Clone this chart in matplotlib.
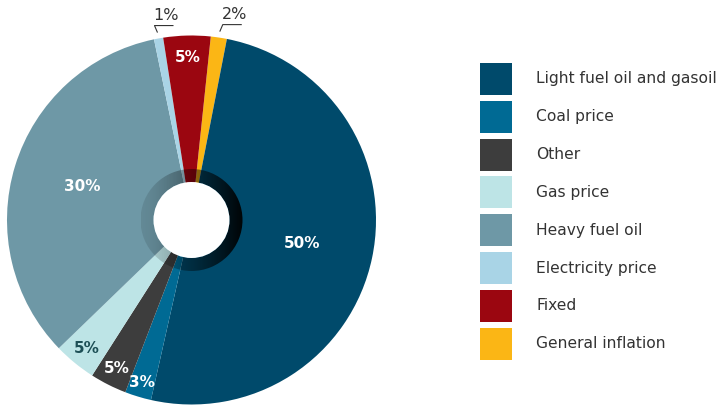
import numpy as np
import matplotlib.pyplot as plt
from matplotlib.patches import Wedge, Circle, Rectangle

# slices in drawing order (clockwise, starting just right of the top)
categories = ['General inflation', 'Light fuel oil and gasoil', 'Coal price', 'Other',
              'Gas price', 'Heavy fuel oil', 'Electricity price', 'Fixed']
shares = [1.4, 50.2, 2.3, 3.2, 3.7, 33.8, 0.8, 4.1]
pct_labels = ['2%', '50%', '3%', '5%', '5%', '30%', '1%', '5%']
colors = ['#fbb615', '#004a6b', '#006a94', '#3d3d3d', '#bde4e6', '#6e98a6', '#a9d4e6', '#9b0610']
legend_order = ['Light fuel oil and gasoil', 'Coal price', 'Other', 'Gas price',
                'Heavy fuel oil', 'Electricity price', 'Fixed', 'General inflation']

# label style per slice
label_dist = [0, 0.61, 0.92, 0.90, 0.90, 0.62, 0, 0.88]
label_col = ['w', 'w', 'w', 'w', '#1d4f56', 'w', 'w', 'w']

W, H = 720, 405
fig = plt.figure(figsize=(7.2, 4.05), dpi=100)
ax = fig.add_axes([0, 0, 1, 1])

cx, cy, R = 191.5, H - 220, 184.5
wedges, _ = ax.pie(shares, colors=colors, startangle=84, counterclock=False,
                   center=(cx, cy), radius=R, frame=True,
                   wedgeprops=dict(linewidth=0))

# labels
for w, lab, d, c in zip(wedges, pct_labels, label_dist, label_col):
    th = np.deg2rad((w.theta1 + w.theta2) / 2)
    if d > 0:
        ax.text(cx + d * R * np.cos(th), cy + d * R * np.sin(th), lab,
                ha='center', va='center', fontsize=11, fontweight='bold', color=c)
    else:
        # small slice: label outside with leader
        ax_ = cx + (R + 6) * np.cos(th)
        ay_ = cy + (R + 6) * np.sin(th)
        ex = ax_ + 3 * np.sign(np.cos(th))
        ey = ay_ + 7
        ax.plot([ax_, ex, ex + 19], [ay_, ey, ey], color='#333333', lw=0.8,
                solid_capstyle='butt')
        ax.text(ex + 12, ey + 3, lab, ha='center', va='bottom', fontsize=11.5,
                color='#333333')

# shaded ring around the hole
ring_r, hole_r = 51, 38
ring = Wedge((cx, cy), ring_r, 0, 360, width=ring_r - hole_r, transform=ax.transData,
             facecolor='none', edgecolor='none')
ax.add_patch(ring)
t = np.linspace(0, 1, 200)
grad = np.zeros((2, 200, 4))
grad[..., 3] = 0.1 + 0.85 * t ** 1.5
img = ax.imshow(grad, extent=[cx - ring_r, cx + ring_r, cy - ring_r, cy + ring_r],
                zorder=3, interpolation='bilinear')
img.set_clip_path(ring)
ax.add_patch(Circle((cx, cy), hole_r, facecolor='white', edgecolor='none', zorder=4))

# legend
for i, name in enumerate(legend_order):
    y = H - (79 + 37.8 * i)
    ax.add_patch(Rectangle((480, y - 16), 32, 32,
                           facecolor=colors[categories.index(name)], edgecolor='none'))
    ax.text(536, y, name, va='center', ha='left', fontsize=11.2, color='#333333')

ax.set_xlim(0, W)
ax.set_ylim(0, H)
ax.set_aspect('equal')
ax.axis('off')

fig.savefig('out.png', dpi=100)
